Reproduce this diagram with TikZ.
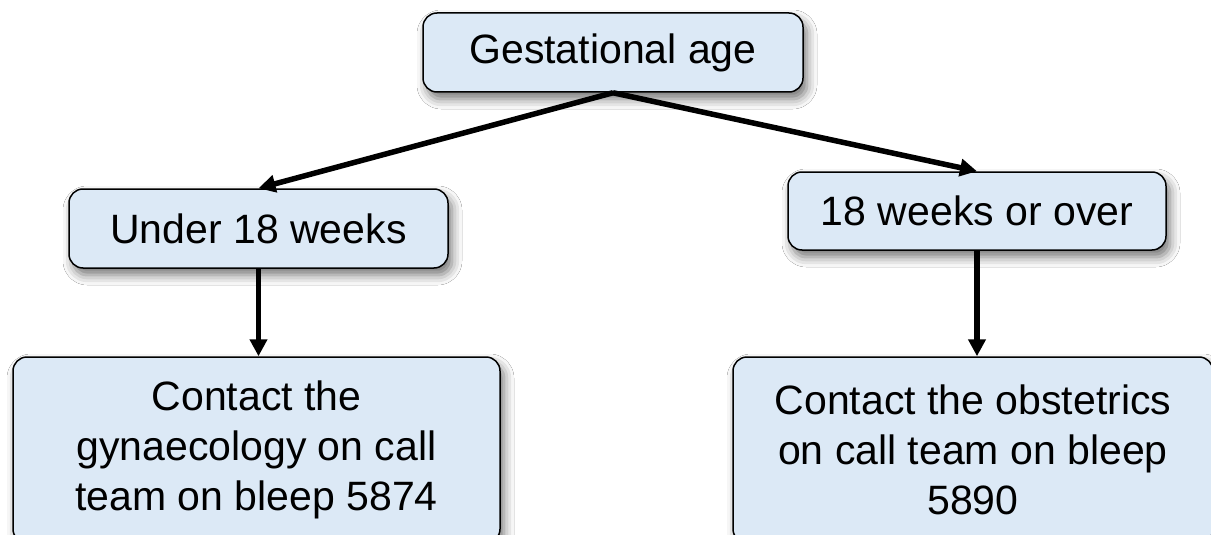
\documentclass[tikz,border=0pt]{standalone}
\usepackage{fontspec}
\setmainfont{Liberation Sans}
\usetikzlibrary{arrows.meta,shadows.blur}
\definecolor{boxfill}{HTML}{DCE9F6}
\tikzset{
  box/.style={draw=black, line width=1.5pt, fill=boxfill, rounded corners=14pt,
    align=center, inner sep=0pt, font=\fontsize{41}{50}\selectfont,
    blur shadow={shadow xshift=4pt, shadow yshift=-7pt, shadow blur radius=10pt, shadow opacity=55}},
  conn/.style={line width=5.5pt, -{Triangle[length=17pt,width=17pt]}}
}
\begin{document}
\begin{tikzpicture}[x=1pt,y=-1pt]
\useasboundingbox (0,0) rectangle (1211,535);
\clip (0,0) rectangle (1211,535);
\fill[white] (0,0) rectangle (1211,535);
\node[box, minimum width=380pt, minimum height=79pt] (ga) at (613,52.5) {Gestational age};
\node[box, minimum width=379pt, minimum height=79pt] (u) at (258.5,228.5) {Under 18 weeks};
\node[box, minimum width=378pt, minimum height=78pt] (o) at (977,211) {18 weeks or over};
\node[box, minimum width=487pt, minimum height=186pt] (gyn) at (256.5,450) {Contact the\\gynaecology on call\\team on bleep 5874};
\node[box, minimum width=480pt, minimum height=186pt] (obs) at (973,450) {Contact the obstetrics\\on call team on bleep\\5890};
\draw[conn] (ga.south) -- (u.north);
\draw[conn] (ga.south) -- (o.north);
\draw[conn] (u.south) -- (u.south |- gyn.north);
\draw[conn] (o.south) -- (o.south |- obs.north);
\end{tikzpicture}
\end{document}
